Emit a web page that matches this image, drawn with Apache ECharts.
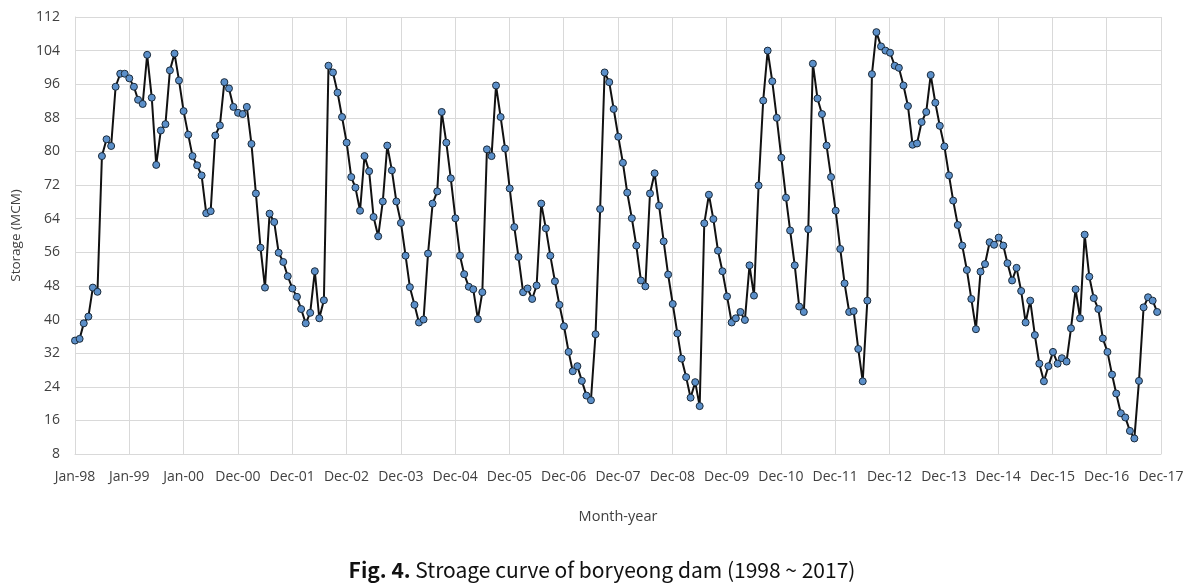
<!DOCTYPE html>
<html>
<head>
<meta charset="utf-8">
<script src="https://cdn.jsdelivr.net/npm/echarts@6/dist/echarts.min.js"></script>
<style>
html,body{margin:0;padding:0;background:#fff;}
#c{width:1204px;height:585px;}
</style>
</head>
<body>
<div id="c"></div>
<script>
// Monthly storage (MCM), Jan-1998 .. Dec-2017
const startYear = 1998;
const storage = [
 35.0,35.4,39.1,40.7,47.6,46.6,78.9,82.9,81.3,95.4,98.5,98.5,
 97.4,95.4,92.3,91.3,103.0,92.8,76.8,85.0,86.5,99.3,103.3,96.9,
 89.6,84.0,78.9,76.7,74.3,65.3,65.8,83.8,86.2,96.5,95.0,90.6,
 89.2,88.9,90.6,81.8,70.0,57.1,47.6,65.2,63.2,55.9,53.7,50.3,
 47.4,45.4,42.5,39.1,41.6,51.5,40.3,44.6,100.4,98.8,94.0,88.2,
 82.1,73.9,71.4,65.9,78.9,75.3,64.4,59.8,68.1,81.4,75.5,68.1,
 63.0,55.2,47.7,43.5,39.3,40.0,55.7,67.6,70.5,89.4,82.1,73.6,
 64.1,55.2,50.8,47.8,47.2,40.1,46.5,80.5,78.9,95.7,88.2,80.7,
 71.2,62.0,54.9,46.5,47.4,44.9,48.1,67.6,61.7,55.2,49.1,43.5,
 38.4,32.3,27.7,28.9,25.4,21.9,20.8,36.5,66.3,98.8,96.5,90.1,
 83.5,77.3,70.2,64.1,57.6,49.3,47.9,70.0,74.8,67.1,58.6,50.7,
 43.7,36.7,30.7,26.3,21.4,25.1,19.4,62.9,69.7,63.9,56.4,51.5,
 45.5,39.3,40.3,41.8,39.9,52.9,45.7,71.9,92.1,104.0,96.7,88.0,
 78.5,69.0,61.2,52.9,43.1,41.8,61.5,100.9,92.6,88.9,81.4,73.9,
 65.9,56.8,48.6,41.8,42.0,33.0,25.3,44.5,98.4,108.4,105.0,104.0,
 103.5,100.4,99.9,95.7,90.8,81.6,81.9,87.0,89.4,98.2,91.6,86.1,
 81.2,74.3,68.3,62.5,57.6,51.8,44.9,37.7,51.4,53.2,58.4,57.8,
 59.5,57.6,53.4,49.3,52.3,46.8,39.3,44.5,36.3,29.5,25.3,28.9,
 32.3,29.5,30.8,30.0,37.9,47.2,40.3,60.2,50.2,45.1,42.5,35.5,
 32.3,26.9,22.4,17.7,16.7,13.5,11.7,25.4,42.9,45.3,44.5,41.8
];
const tickLabels = ['Jan-98','Jan-99','Jan-00','Dec-00','Dec-01','Dec-02','Dec-03','Dec-04','Dec-05','Dec-06','Dec-07','Dec-08','Dec-09','Dec-10','Dec-11','Dec-12','Dec-13','Dec-14','Dec-15','Dec-16','Dec-17'];
const yTicks = [8,16,24,32,40,48,56,64,72,80,88,96,104,112];

const DAY = 86400000;
const t0 = Date.UTC(startYear, 0, 1);
const seriesData = storage.map((v, i) => [(Date.UTC(startYear, i, 1) - t0) / DAY, v]);

const font = '"Open Sans", "Noto Sans", sans-serif';
const chart = echarts.init(document.getElementById('c'));
chart.setOption({
  animation: false,
  backgroundColor: '#fff',
  grid: { left: 75, right: 43, top: 17, bottom: 131 },
  title: {
    text: '{b|Fig. 4.} Stroage curve of boryeong dam (1998 ~ 2017)',
    left: 'center', top: 555,
    textStyle: {
      fontFamily: '"Noto Sans CJK KR", "Noto Sans", sans-serif',
      fontSize: 21, fontWeight: 'normal', color: '#111',
      rich: { b: { fontFamily: '"Noto Sans CJK KR", "Noto Sans", sans-serif', fontSize: 21, fontWeight: 'bold', color: '#111' } }
    }
  },
  xAxis: {
    type: 'value', min: 0, max: 365 * (tickLabels.length - 1), interval: 365,
    name: 'Month-year', nameLocation: 'middle', nameGap: 55,
    nameTextStyle: { fontFamily: font, fontSize: 14.5, color: '#404040' },
    axisLine: { show: true, lineStyle: { color: '#d9d9d9', width: 1 } },
    axisTick: { show: false },
    axisLabel: {
      fontFamily: font, fontSize: 14, color: '#404040', margin: 16,
      formatter: v => tickLabels[Math.round(v / 365)] || ''
    },
    splitLine: { show: true, lineStyle: { color: '#d9d9d9', width: 1 } }
  },
  yAxis: {
    type: 'value', min: yTicks[0], max: yTicks[yTicks.length - 1], interval: 8,
    name: 'Storage (MCM)', nameLocation: 'middle', nameGap: 52, nameRotate: 90,
    nameTextStyle: { fontFamily: font, fontSize: 13.5, color: '#404040' },
    axisLine: { show: true, lineStyle: { color: '#d9d9d9', width: 1 } },
    axisTick: { show: false },
    axisLabel: { fontFamily: font, fontSize: 14, color: '#404040', margin: 15 },
    splitLine: { show: true, lineStyle: { color: '#d9d9d9', width: 1 } }
  },
  series: [{
    type: 'line',
    data: seriesData,
    symbol: 'circle',
    symbolSize: 7,
    lineStyle: { color: '#111', width: 2 },
    itemStyle: { color: '#5b8fc9', borderColor: '#1a2a3a', borderWidth: 1 },
    z: 3
  }]
});
</script>
</body>
</html>
